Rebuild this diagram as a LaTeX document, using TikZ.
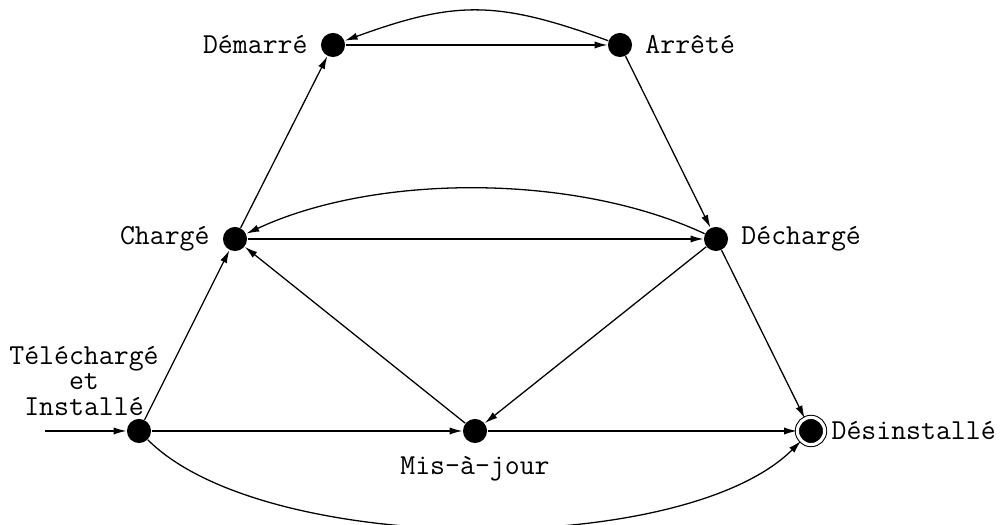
\documentclass[tikz,border=0pt]{standalone}
\usepackage{fontspec}
\usetikzlibrary{arrows.meta}
\newcommand{\statefont}{\fontsize{11.3}{9.8}\selectfont\ttfamily}
\tikzset{
    state/.style={circle, fill=black, inner sep=0pt, minimum size=9.4pt},
    final/.style={state, draw, double=white, double distance=1.2pt, minimum size=10.6pt},
    statelabel/.style={font=\statefont, label distance=1.5pt},
    trans/.style={->, line width=0.5pt}
}

\begin{document}
\begin{tikzpicture}[x=0.39pt, y=-0.39pt, >={Latex[length=5pt, width=2.8pt]}]
    \useasboundingbox (0,0) rectangle (1004,525);

    % etats
    \node[state, label={[statelabel]left:Démarré}] (demarre) at (333,45) {};
    \node[state, label={[statelabel]right:Arrêté}] (arrete) at (620,45) {};
    \node[state, label={[statelabel]left:Chargé}] (charge) at (235,239) {};
    \node[state, label={[statelabel]right:Déchargé}] (decharge) at (716,239) {};
    \node[state] (installe) at (139,431) {};
    \node[state, label={[statelabel]below:Mis-à-jour}] (majour) at (475,431) {};
    \node[final, label={[statelabel, label distance=-1pt]right:Désinstallé}] (desinstalle) at (811,431) {};
    \node[font=\statefont, align=center] (installe-lbl) at (84,381) {Téléchargé\\et\\Installé};
    \coordinate (debut) at (45,431);

    % transitions
    \draw[trans] (debut) -- (installe);
    \draw[trans] (installe) -- (charge);
    \draw[trans] (installe) -- (majour);
    \draw[trans] (installe) to[out=-45, in=-135, looseness=0.65] (desinstalle);
    \draw[trans] (charge) -- (demarre);
    \draw[trans] (demarre) -- (arrete);
    \draw[trans] (arrete) to[out=160, in=20, looseness=1.15] (demarre);
    \draw[trans] (arrete) -- (decharge);
    \draw[trans] (charge) -- (decharge);
    \draw[trans] (decharge) to[out=155, in=25, looseness=0.8] (charge);
    \draw[trans] (decharge) -- (majour);
    \draw[trans] (majour) -- (charge);
    \draw[trans] (majour) -- (desinstalle);
    \draw[trans] (decharge) -- (desinstalle);
\end{tikzpicture}
\end{document}
